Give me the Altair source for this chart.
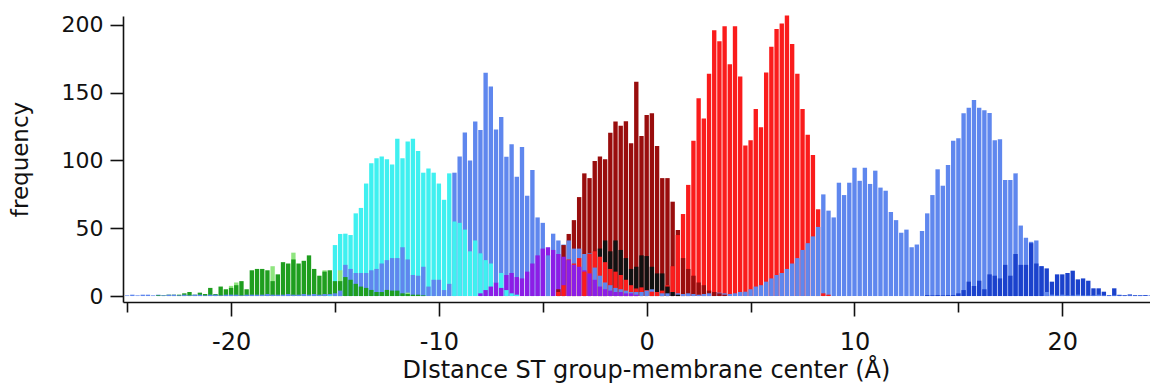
import altair as alt
import pandas as pd

BIN = 0.25

# counts per 0.25 Å bin, listed from the first bin centre given by *_start
green_start = -23.5
green = [0.5, 0.5, 1, 1, 1, 2, 3, 1, 2.5, 1.5, 6, 1.5, 7, 5, 6, 8, 11, 5, 19, 20,
         20, 19, 11, 16, 25, 24, 27, 24, 26, 30, 20, 15, 18, 19, 11, 11, 14, 12, 9, 7,
         6, 4.5, 3, 3, 4.5, 4, 4, 2, 1.5, 1, 1, 0.5]

lightgreen_x = [-20, -19.75, -18, -17, -15.5, -14.75, -11.5]
lightgreen = [7.5, 10, 22, 32, 19, 19, 2.5]

cyan_start = -15.25
cyan = [0.5, 37.6, 45.8, 46, 45, 61, 65, 83, 98, 101.6, 103, 101, 97, 116, 101.6, 114,
        116, 107, 91, 94, 91, 83, 71, 90.5, 55, 54, 49, 33, 41, 31.5, 26.5, 24, 10, 17,
        4.4, 2, 1]

blue_start = -25
blue = [0.5, 1, 0.5, 1, 1, 0.5, 1, 0.5, 1, 1, 0.5, 1, 0.5, 1, 1, 0.5, 1, 1, 0.5, 1,
        1, 1, 0.5, 1, 1, 1, 1, 1.5, 1, 1, 1, 1.5, 1, 1, 1.5, 1, 1.5, 1, 1.5, 1.5,
        2, 4, 23, 20, 17, 17, 17, 19, 20, 24, 26.5, 28, 28, 36, 27, 15.5, 15, 21.6, 7, 12,
        12, 4.4, 9, 91, 103, 120.6, 100, 128.7, 122.5, 164.8, 154.5, 122.8, 132, 102.8, 112, 88, 110, 74, 93, 58,
        54, 30, 46, 41, 38, 41, 35, 35, 31, 31.5, 21, 15, 10, 8, 6, 5, 4, 3, 3, 3,
        4, 5, 3, 2, 2, 3, 2, 1.5, 2, 1.5, 1, 1.5, 2, 3, 2.5, 2, 1.5, 2, 3, 3.2,
        5, 7, 8, 10.6, 13, 15.5, 17, 20, 24, 28, 34, 39, 44, 51, 75, 63, 58, 83.6, 74.5, 83.6,
        94.7, 85, 94.7, 82.7, 92.5, 80, 77.7, 62, 56, 46.7, 49, 36, 38, 48, 61, 74.5, 93.5, 81.4, 96.7, 114.6,
        116.4, 134.8, 139, 144.6, 139, 137, 135, 115, 115.6, 85.6, 85.6, 90.5, 52, 43, 40, 41, 22, 3, 1,
        0.5, 1, 0.5, 0.5, 1, 0.5, 0.5, 0.5, 1, 0.5, 0.5, 0.5, 1, 0.5, 0.5, 0.5, 0.5, 0.5, 0.5]

purple_start = -8
purple = [2, 4.4, 7, 10, 6, 15.5, 17, 14, 13, 18, 24, 30, 35, 36, 34, 31, 29, 26.5, 23, 21.6,
          19, 16.7, 12, 7, 5, 4, 3, 3, 2, 2, 1]

darkred_start = -4.25
darkred = [5, 37.6, 45.8, 56, 73, 90.5, 87, 99.6, 103, 101, 120.5, 128.7, 125.7, 129, 112.7, 158,
           118, 133.6, 134.8, 110.7, 87, 87, 69.6, 48.7, 28, 20, 15, 10, 8, 4, 3, 2, 1]

red_start = -4.25
red = [3, 8, 27, 24, 28, 18, 31, 33, 29, 25, 20, 18, 15.5, 12, 8, 5.6, 6.4, 4.4, 3.2, 3,
       4, 8, 22, 45, 60.5, 82, 114.6, 146, 131, 164, 196, 188, 199, 171, 199, 162, 111, 115, 138, 124.5,
       165, 184, 197, 201, 207, 186, 164, 138, 119, 104, 64, 2, 1]

black_start = -2.25
black = [35, 41, 33, 41, 34, 28, 20, 21.6, 30, 29.5, 21.6, 16.7, 16.7, 7, 3, 1]

darkblue_start = 13.5
darkblue = [0.7, 0.5, 0.7, 0.5, 0.7, 0.7, 2, 4.4, 10.6, 7.4, 11.3, 5, 16, 15, 13, 23, 15, 31, 23, 23,
            39, 24, 22, 20.4, 10.6, 16, 16, 17, 18.7, 12.3, 13, 11.3, 5.7, 5.7, 3.2, 0.7, 5.7, 0.5, 0.5, 1.2,
            0.5, 0.7, 0.5]

names = ["green", "lightgreen", "cyan", "blue", "purple", "darkred", "red", "black", "darkblue"]
colors = ["#1f9e1f", "#8fe57f", "#3ff0f0", "#5f87ee", "#8c1ee6", "#990d0d", "#fa1c1c", "#111111", "#1b42cc"]

rows = []
for name, start, vals in [("green", green_start, green), ("cyan", cyan_start, cyan),
                          ("blue", blue_start, blue), ("purple", purple_start, purple),
                          ("darkred", darkred_start, darkred), ("red", red_start, red),
                          ("black", black_start, black), ("darkblue", darkblue_start, darkblue)]:
    for i, v in enumerate(vals):
        c = start + BIN * i
        rows.append({"s": name, "x0": c - 0.105, "x1": c + 0.105, "y": v, "base": 0})
for c, v in zip(lightgreen_x, lightgreen):
    rows.append({"s": "lightgreen", "x0": c - 0.105, "x1": c + 0.105, "y": v, "base": 0})
df = pd.DataFrame(rows)

FONT = "DejaVu Sans"
xscale = alt.Scale(domain=[-25.2, 24.22], nice=False, zero=False)

bars = alt.Chart(df).mark_bar(strokeWidth=0).encode(
    x=alt.X("x0:Q", scale=xscale,
            axis=alt.Axis(values=[-20, -10, 0, 10, 20], tickSize=14, labelPadding=14,
                          labelExpr="toString(datum.value)", labelFontSize=24,
                          title="DIstance ST group-membrane center (Å)", titleFontSize=24,
                          titleX=523, titleY=75, titleBaseline="alphabetic", titleAlign="center",
                          orient="bottom")),
    x2="x1:Q",
    y=alt.Y("y:Q", stack=None,
            scale=alt.Scale(domain=[-4.4, 206.6], nice=False, zero=False),
            axis=alt.Axis(values=[0, 50, 100, 150, 200], tickSize=13, labelPadding=7,
                          labelFontSize=22, title="frequency", titleFontSize=23,
                          titleX=-96, titleBaseline="alphabetic")),
    y2="base:Q",
    color=alt.Color("s:N", scale=alt.Scale(domain=names, range=colors), legend=None),
    order=alt.Order("y:Q", sort="descending"),
)

minor = alt.Chart(df).mark_rule(opacity=0).encode(
    x=alt.X("x0:Q", scale=xscale,
            axis=alt.Axis(values=[-25, -15, -5, 5, 15], tickSize=10, labels=False,
                          domain=False, title=None, orient="bottom")),
)

chart = alt.layer(bars, minor).resolve_axis(x="independent").properties(
    width=1027, height=286,
    autosize=alt.AutoSizeParams(type="none"),
    padding={"left": 115, "top": 8, "right": 0, "bottom": 85},
).configure_view(stroke=None).configure_axis(
    grid=False, domainColor="#111111", domainWidth=1.6, tickColor="#111111", tickWidth=1.6,
    labelFont=FONT, titleFont=FONT, labelColor="#111111", titleColor="#111111",
    titleFontWeight="normal",
)

chart.save("out.html", embed_options={"renderer": "svg", "actions": False})
